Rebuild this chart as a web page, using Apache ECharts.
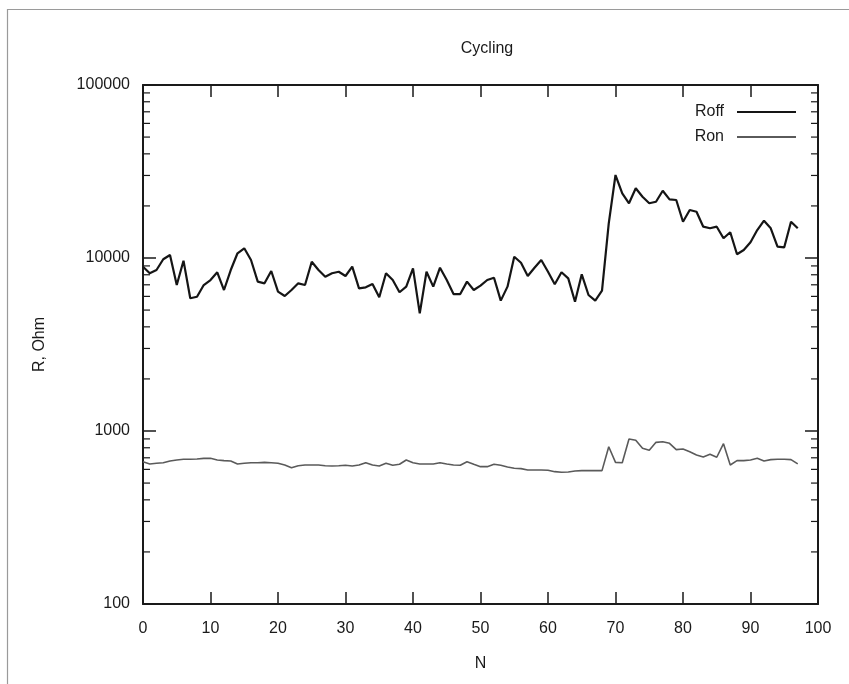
<!DOCTYPE html>
<html>
<head>
<meta charset="utf-8">
<script src="https://cdn.jsdelivr.net/npm/echarts@6/dist/echarts.min.js"></script>
<style>
  html, body { margin: 0; padding: 0; background: #ffffff; }
  #chart { width: 849px; height: 684px; }
</style>
</head>
<body>
<div id="chart"></div>
<script>
// Cycle number N
const cycles = [
  0, 1, 2, 3, 4, 5, 6, 7, 8, 9, 10, 11, 12, 13, 14, 15, 16, 17, 18, 19,
  20, 21, 22, 23, 24, 25, 26, 27, 28, 29, 30, 31, 32, 33, 34, 35, 36, 37, 38, 39,
  40, 41, 42, 43, 44, 45, 46, 47, 48, 49, 50, 51, 52, 53, 54, 55, 56, 57, 58, 59,
  60, 61, 62, 63, 64, 65, 66, 67, 68, 69, 70, 71, 72, 73, 74, 75, 76, 77, 78, 79,
  80, 81, 82, 83, 84, 85, 86, 87, 88, 89, 90, 91, 92, 93, 94, 95, 96, 97
];

// High-resistance state, Ohm
const rOff = [
  8910, 8160, 8520, 9830, 10410, 6980, 9650, 5850, 5970, 6980,
  7460, 8270, 6530, 8520, 10650, 11380, 9740, 7300, 7140, 8410,
  6390, 6030, 6530, 7140, 6980, 9520, 8520, 7800, 8160, 8330,
  7870, 8910, 6680, 6770, 7080, 5930, 8160, 7460, 6340, 6830,
  8720, 4790, 8330, 6830, 8790, 7460, 6190, 6190, 7300, 6530,
  6920, 7460, 7690, 5670, 6830, 10170, 9390, 7870, 8790, 9740,
  8330, 7050, 8270, 7630, 5590, 8050, 6110, 5670, 6470, 15870,
  30180, 23660, 20710, 25290, 22610, 20710, 21150, 24480, 21840, 21640,
  16210, 18940, 18520, 15170, 14850, 15170, 13000, 14080, 10510, 11120,
  12320, 14510, 16430, 14850, 11620, 11530, 16210, 14850
];

// Low-resistance state, Ohm
const rOn = [
  664, 645, 651, 656, 671, 680, 686, 686, 689, 695,
  695, 680, 674, 671, 645, 651, 656, 656, 659, 656,
  651, 636, 614, 630, 636, 636, 636, 630, 628, 630,
  634, 628, 636, 656, 636, 628, 651, 634, 642, 680,
  656, 645, 645, 645, 656, 645, 636, 634, 664, 642,
  622, 622, 642, 634, 619, 609, 606, 595, 595, 595,
  593, 582, 577, 580, 587, 590, 590, 590, 590, 811,
  659, 656, 899, 884, 794, 773, 860, 867, 849, 780,
  787, 759, 727, 707, 733, 705, 845, 636, 674, 674,
  680, 695, 671, 683, 686, 686, 683, 645
];

const seriesNames = ['Roff', 'Ron'];
const xTickLabels = ['0', '10', '20', '30', '40', '50', '60', '70', '80', '90', '100'];
const yTickLabels = ['100', '1000', '10000', '100000'];
// Intermediate ticks of the logarithmic R axis
const yMinorTicks = [
  200, 300, 400, 500, 600, 700, 800, 900,
  2000, 3000, 4000, 5000, 6000, 7000, 8000, 9000,
  20000, 30000, 40000, 50000, 60000, 70000, 80000, 90000
];

const FONT = 'Liberation Sans, Arial, sans-serif';
const INK = '#1a1a1a';

const chart = echarts.init(document.getElementById('chart'), null, { renderer: 'canvas' });

const pairs = (ys) => cycles.map((n, i) => [n, ys[i]]);

const xBase = {
  type: 'value',
  min: 0,
  max: 100,
  interval: 10,
  splitLine: { show: false },
  axisLine: { show: true, onZero: false, lineStyle: { color: INK, width: 2 } },
  axisTick: { show: true, inside: true, length: 12, lineStyle: { color: INK, width: 1.5 } }
};

const yBase = {
  type: 'log',
  logBase: 10,
  min: 100,
  max: 100000,
  splitLine: { show: false },
  minorTick: { show: false },
  minorSplitLine: { show: false },
  axisLine: { show: true, onZero: false, lineStyle: { color: INK, width: 2 } },
  axisTick: { show: true, inside: true, length: 13, lineStyle: { color: INK, width: 1.5 } }
};

// Short inward marks on both vertical edges of the plot for each minor value
function renderMinorTick(params, api) {
  const v = api.value(1);
  const left = api.coord([0, v]);
  const right = api.coord([100, v]);
  const len = 7;
  const style = { stroke: INK, lineWidth: 1.2 };
  return {
    type: 'group',
    children: [
      { type: 'line', shape: { x1: left[0], y1: left[1], x2: left[0] + len, y2: left[1] }, style: style },
      { type: 'line', shape: { x1: right[0] - len, y1: right[1], x2: right[0], y2: right[1] }, style: style }
    ]
  };
}

chart.setOption({
  backgroundColor: '#ffffff',
  animation: false,
  title: {
    text: 'Cycling',
    left: 482,
    top: 36,
    textAlign: 'center',
    textStyle: { fontFamily: FONT, fontSize: 16, fontWeight: 'normal', color: INK }
  },
  legend: {
    data: seriesNames,
    orient: 'vertical',
    align: 'right',
    right: 48,
    top: 99,
    icon: 'rect',
    itemWidth: 59,
    itemHeight: 2,
    itemGap: 9,
    textStyle: { fontFamily: FONT, fontSize: 16, color: INK, padding: [0, 8, 0, 0] }
  },
  grid: { left: 143, right: 31, top: 85, bottom: 80, containLabel: false },
  xAxis: [
    Object.assign({}, xBase, {
      position: 'bottom',
      name: 'N',
      nameLocation: 'middle',
      nameGap: 52,
      nameTextStyle: { fontFamily: FONT, fontSize: 16, color: INK },
      axisLabel: {
        margin: 17,
        fontFamily: FONT,
        fontSize: 16,
        color: INK,
        formatter: (v) => xTickLabels[Math.round(v / 10)]
      }
    }),
    Object.assign({}, xBase, { position: 'top', axisLabel: { show: false } })
  ],
  yAxis: [
    Object.assign({}, yBase, {
      position: 'left',
      name: 'R, Ohm',
      nameLocation: 'middle',
      nameGap: 95,
      nameRotate: 90,
      nameTextStyle: { fontFamily: FONT, fontSize: 16, color: INK },
      axisLabel: {
        margin: 13,
        fontFamily: FONT,
        fontSize: 16,
        color: INK,
        formatter: (v) => yTickLabels[Math.round(Math.log10(v)) - 2]
      }
    }),
    Object.assign({}, yBase, { position: 'right', axisLabel: { show: false } })
  ],
  series: [
    {
      name: seriesNames[0],
      type: 'line',
      xAxisIndex: 0,
      yAxisIndex: 0,
      data: pairs(rOff),
      symbol: 'none',
      lineStyle: { color: '#151515', width: 2.2 },
      itemStyle: { color: '#151515' }
    },
    {
      name: seriesNames[1],
      type: 'line',
      xAxisIndex: 0,
      yAxisIndex: 0,
      data: pairs(rOn),
      symbol: 'none',
      lineStyle: { color: '#5a5a5a', width: 1.6 },
      itemStyle: { color: '#5a5a5a' }
    },
    {
      name: 'minor ticks',
      type: 'custom',
      xAxisIndex: 0,
      yAxisIndex: 0,
      silent: true,
      clip: false,
      data: yMinorTicks.map((v) => [0, v]),
      renderItem: renderMinorTick
    }
  ],
  graphic: [
    {
      type: 'polyline',
      silent: true,
      shape: { points: [[7.5, 684], [7.5, 9.5], [849, 9.5]] },
      style: { stroke: '#9a9a9a', fill: null, lineWidth: 1.2 }
    }
  ]
});
</script>
</body>
</html>
